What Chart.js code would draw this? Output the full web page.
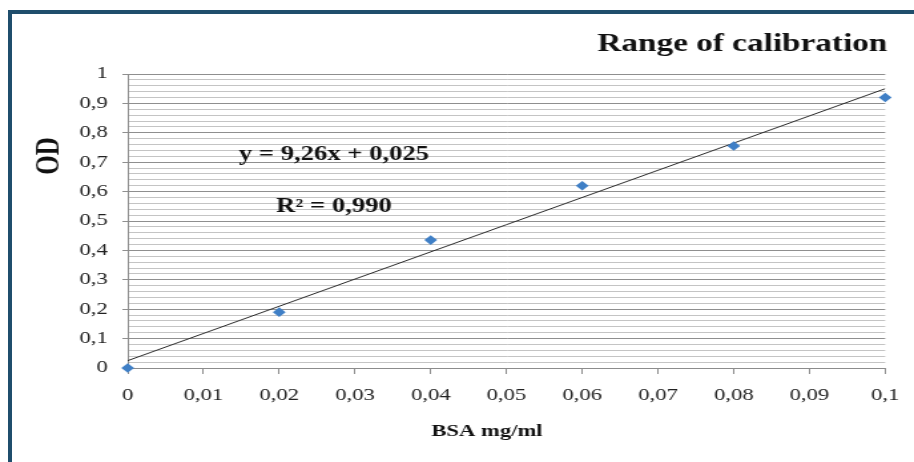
<!DOCTYPE html>
<html>
<head>
<meta charset="utf-8">
<script src="https://cdn.jsdelivr.net/npm/chart.js@4/dist/chart.umd.min.js"></script>
<style>
  html, body { margin: 0; padding: 0; background: #fff; overflow: hidden; }
  body { width: 914px; height: 462px; position: relative; }
  #frame {
    position: absolute; left: 8px; top: 10px; width: 1000px; height: 600px;
    border-left: 4px solid #1f4e6c; border-top: 4px solid #1f4e6c;
  }
  /* the source picture is stretched sideways, so the chart is drawn narrow and widened */
  #wrap {
    position: absolute; left: 0; top: 0; width: 687px; height: 462px;
    transform: scaleX(1.3304); transform-origin: 0 0;
  }
</style>
</head>
<body>
<div id="frame"></div>
<div id="wrap"><canvas id="chart"></canvas></div>
<script>
// measured points
const bsa = [0, 0.02, 0.04, 0.06, 0.08, 0.1];
const od = [0, 0.19, 0.435, 0.62, 0.755, 0.92];

// linear trend line as drawn
const trendX = [0, 0.1];
const trendY = [0.025, 0.95];

const equationText = "y = 9,26x + 0,025";
const r2Text = "R\u00b2 = 0,990";

const serif = "'Liberation Serif', 'Times New Roman', serif";

function comma(v) {
  return String(Math.round(v * 100) / 100).replace(".", ",");
}

function isMajor(v) {
  return Math.round(v * 100) % 10 === 0;
}

// axis titles and the regression text
const notes = {
  id: "notes",
  afterDraw(chart) {
    const ctx = chart.ctx;
    ctx.save();
    ctx.fillStyle = "#111";
    ctx.textAlign = "center";
    ctx.textBaseline = "middle";

    ctx.font = "bold 20px " + serif;
    ctx.fillText(equationText, 251, 155);
    ctx.fillText(r2Text, 251, 207);

    ctx.font = "bold 17px " + serif;
    ctx.fillText("BSA mg/ml", 366, 432);

    ctx.translate(38, 156);
    ctx.rotate(-Math.PI / 2);
    ctx.font = "bold 25px " + serif;
    ctx.fillText("OD", 0, 0);
    ctx.restore();
  }
};

new Chart(document.getElementById("chart"), {
  data: {
    datasets: [
      {
        type: "scatter",
        data: bsa.map((x, i) => ({ x: x, y: od[i] })),
        pointStyle: "rectRot",
        pointRadius: 4.8,
        backgroundColor: "#3f7fc6",
        borderColor: "#3f7fc6",
        borderWidth: 0,
        clip: false,
        order: 1
      },
      {
        type: "line",
        data: trendX.map((x, i) => ({ x: x, y: trendY[i] })),
        borderColor: "#2b2b2b",
        borderWidth: 1,
        pointRadius: 0,
        fill: false,
        order: 2
      }
    ]
  },
  options: {
    responsive: true,
    maintainAspectRatio: false,
    animation: false,
    events: [],
    layout: { padding: { left: 0, right: 20, top: 0, bottom: 0 } },
    plugins: {
      legend: { display: false },
      tooltip: { enabled: false },
      title: {
        display: true,
        text: "Range of calibration",
        align: "end",
        color: "#111",
        font: { family: serif, size: 25, weight: "bold" },
        padding: { top: 30, bottom: 14 }
      }
    },
    scales: {
      x: {
        type: "linear",
        min: 0,
        max: 0.1,
        afterFit: (s) => { s.height = 94; },
        ticks: {
          stepSize: 0.01,
          padding: 11,
          color: "#222",
          font: { family: serif, size: 17 },
          callback: (v) => comma(v)
        },
        grid: {
          drawOnChartArea: false,
          tickLength: 6,
          tickColor: "#8c8c8c"
        },
        border: { color: "#8c8c8c", width: 1 }
      },
      y: {
        min: 0,
        max: 1,
        afterFit: (s) => { s.width = 96; },
        ticks: {
          stepSize: 0.02,
          autoSkip: false,
          padding: 11,
          color: "#222",
          font: { family: serif, size: 17 },
          callback: (v) => isMajor(v) ? comma(v) : ""
        },
        grid: {
          tickLength: 4,
          color: (c) => isMajor(c.tick.value) ? "#8f8f8f" : "#c4c4c4",
          tickColor: (c) => isMajor(c.tick.value) ? "#8f8f8f" : "rgba(0,0,0,0)"
        },
        border: { color: "#8c8c8c", width: 1 }
      }
    }
  },
  plugins: [notes]
});
</script>
</body>
</html>
